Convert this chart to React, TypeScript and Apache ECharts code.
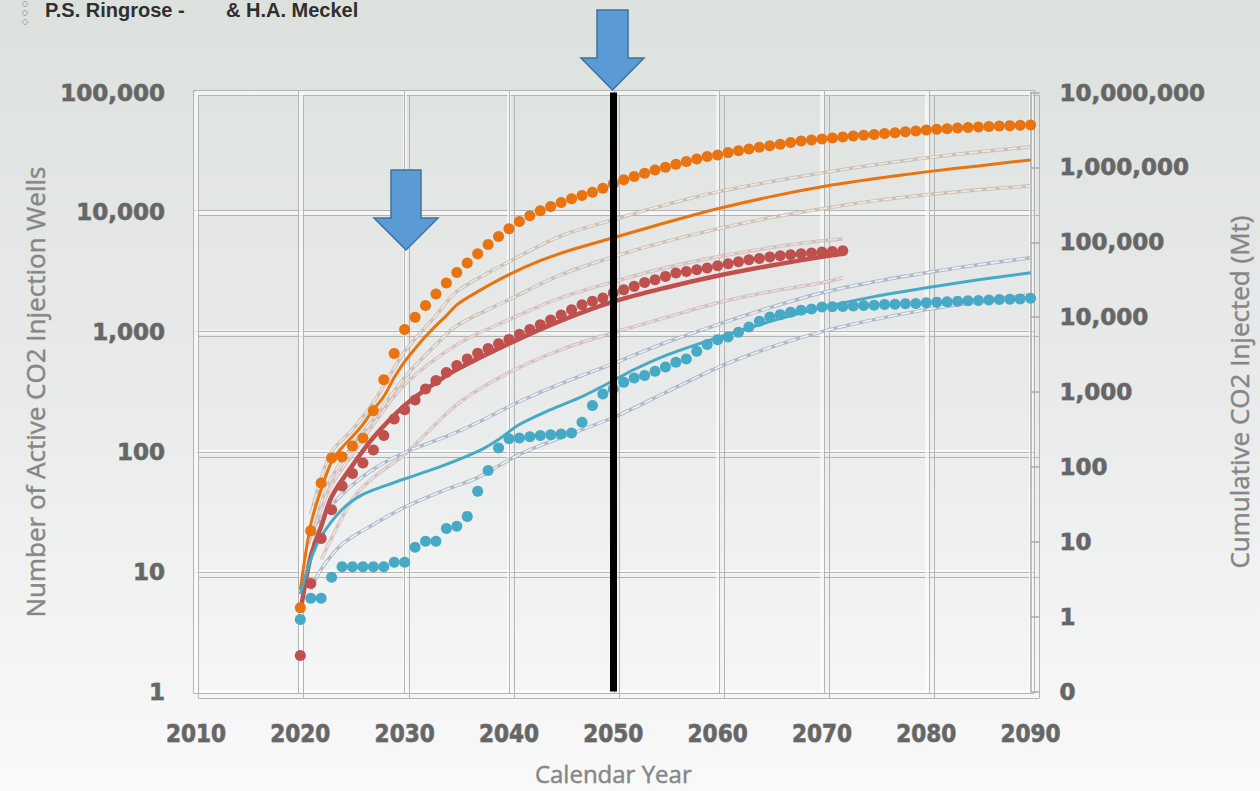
import React, { useEffect, useRef } from "react";
import * as echarts from "echarts";

// ---- data ----
const DOT_START_YEAR = 2020;
// Number of active CO2 injection wells (left axis), one dot per year from 2020
const orangeDots = [
  5, 22, 55, 89, 91, 112, 131, 221, 400, 662,
  1050, 1330, 1670, 2080, 2570, 3150, 3770, 4510, 5390, 6290,
  7290, 8380, 9350, 10300, 11200, 12100, 13000, 13800, 14700, 15900,
  17300, 18700, 19900, 21200, 22600, 23800, 25200, 26500, 27900, 29200,
  30100, 31500, 32700, 33800, 34900, 36000, 37000, 38200, 39400, 40200,
  41000, 41800, 42600, 43400, 44000, 44700, 45500, 46200, 47000, 47800,
  48700, 49400, 49900, 50500, 51000, 51500, 52000, 52500, 52900, 53200, 53500,
];
const redDots = [
  2, 8, 19, 33, 52, 66, 81, 104, 137, 188,
  225, 272, 335, 395, 460, 526, 598, 665, 730, 800,
  870, 960, 1050, 1150, 1260, 1390, 1540, 1690, 1810, 1930,
  2120, 2260, 2410, 2600, 2740, 2920, 3110, 3210, 3320, 3430,
  3580, 3720, 3870, 4020, 4120, 4230, 4340, 4420, 4510, 4570,
  4660, 4710, 4780,
];
const tealDots = [
  4, 6, 6, 9, 11, 11, 11, 11, 11, 12,
  12, 16, 18, 18, 23, 24, 29, 47, 70, 108,
  129, 131, 134, 137, 139, 141, 144, 177, 244, 305,
  336, 382, 415, 434, 471, 512, 560, 598, 692, 787,
  866, 911, 996, 1105, 1231, 1339, 1400, 1463, 1520, 1561,
  1622, 1630, 1640, 1650, 1665, 1680, 1700, 1710, 1725, 1735,
  1760, 1780, 1795, 1810, 1825, 1835, 1855, 1875, 1885, 1895, 1915,
];

// Cumulative CO2 injected (Mt, right axis)
const orangeLineYears = [2020, 2021, 2022, 2023, 2024, 2025, 2026, 2027, 2028, 2029, 2030, 2031, 2032, 2033, 2034, 2035, 2037, 2040, 2043, 2046, 2050, 2055, 2060, 2065, 2070, 2075, 2080, 2085, 2090];
const orangeLine = [2.3, 17, 50, 118, 182, 255, 369, 584, 871, 1560, 2550, 3800, 5500, 7700, 10500, 14600, 21900, 36900, 56700, 79400, 115000, 182000, 280000, 404000, 550000, 703000, 871000, 1047000, 1259000];
const orangeBandYears = [2021, 2022, 2023, 2025, 2027, 2030, 2033, 2035, 2040, 2045, 2050, 2055, 2060, 2065, 2070, 2075, 2080, 2085, 2090];
const orangeUpper = [23, 72, 161, 316, 724, 3470, 10500, 21900, 55000, 122000, 200000, 316000, 471000, 641000, 845000, 1080000, 1340000, 1610000, 1880000];
const orangeLower = [9.3, 32, 72, 194, 430, 1560, 4300, 7700, 17100, 36900, 64100, 102000, 151000, 212000, 280000, 357000, 430000, 501000, 567000];

const redLineYears = [2020, 2021, 2022, 2023, 2025, 2027, 2030, 2033, 2035, 2040, 2045, 2050, 2055, 2060, 2065, 2070, 2072];
const redLine = [1.15, 6.4, 16, 40, 105, 247, 661, 1340, 2000, 4430, 8980, 16100, 24700, 35700, 48600, 64100, 70300];
const redUpperYears = [2021, 2022, 2023, 2025, 2027, 2030, 2035, 2040, 2045, 2050, 2055, 2060, 2065, 2070, 2072];
const redUpper = [10.8, 27, 58, 147, 369, 1260, 4300, 9260, 18200, 29700, 45700, 64100, 84500, 105000, 111000];
const redLowerYears = [2022, 2025, 2027, 2030, 2035, 2040, 2045, 2050, 2055, 2060, 2065, 2070, 2072];
const redLower = [5.8, 37, 72, 147, 681, 1820, 3690, 6210, 9840, 15600, 21900, 28800, 33600];

const tealLineYears = [2020, 2021, 2022, 2024, 2026, 2029, 2031, 2034, 2037, 2039, 2041, 2044, 2047, 2050, 2052, 2055, 2060, 2065, 2070, 2075, 2080, 2085, 2090];
const tealLine = [2.0, 5.8, 11.8, 27, 43, 62, 77, 108, 161, 233, 369, 584, 871, 1420, 2000, 3070, 5330, 8710, 13400, 18800, 24700, 31600, 39200];
const tealBandYears = [2021, 2022, 2024, 2027, 2030, 2034, 2037, 2041, 2045, 2050, 2055, 2060, 2065, 2070, 2075, 2080, 2085, 2090];
const tealUpper = [9.3, 20, 43, 93, 156, 255, 392, 747, 1300, 2400, 4570, 7940, 13400, 21200, 29700, 39200, 50100, 62100];
const tealLower = [2.3, 4.3, 9.3, 17, 29, 50, 72, 147, 247, 457, 985, 2120, 3920, 6410, 9270, 12600, 16100, 20000];

const MARKED_YEAR = 2050;
const X_MIN = 2010;
const X_MAX = 2090;
const X_STEP = 10;

const ORANGE = "#e8730f";
const RED = "#c0504d";
const TEAL = "#46aac6";

const dots = (vals: number[]) => vals.map((v, i) => [DOT_START_YEAR + i, v]);
const pairs = (xs: number[], ys: number[]) => xs.map((x, i) => [x, ys[i]]);
const fmt = (v: number) => (v < 0.5 ? "0" : Math.round(v).toLocaleString("en-US"));

export default function App() {
  const ref = useRef<HTMLDivElement>(null);
  useEffect(() => {
    document.body.style.margin = "0";
    const chart = echarts.init(ref.current!, null, { renderer: "svg" });

    const G = { left: 196, top: 92.5, width: 841, height: 603 };
    const gridColor = "#b3b5b4";
    const tickLabel = {
      fontFamily: "DejaVu Sans",
      fontWeight: "bold" as const,
      fontSize: 23,
      color: "#666666",
      textBorderColor: "rgba(70,70,70,0.55)",
      textBorderWidth: 1,
    };
    const nameStyle = {
      fontFamily: "Open Sans",
      fontSize: 26,
      color: "#868686",
      textBorderColor: "rgba(90,90,90,0.45)",
      textBorderWidth: 0.8,
    };

    const helperX = (gi: number) => ({
      type: "value", gridIndex: gi, min: X_MIN, max: X_MAX, interval: X_STEP,
      axisLabel: { show: false }, axisLine: { show: false }, axisTick: { show: false },
      splitLine: { show: true, lineStyle: { color: gridColor, width: 1 } },
    });
    const helperY = (gi: number) => ({
      type: "log", gridIndex: gi, min: 1, max: 100000, logBase: 10,
      axisLabel: { show: false }, axisLine: { show: false }, axisTick: { show: false },
      splitLine: { show: true, lineStyle: { color: gridColor, width: 1 } },
    });

    const band = (name: string, data: number[][], outline: string, inner: string) => [
      {
        name: name + "-edge", type: "line", xAxisIndex: 0, yAxisIndex: 1, data,
        smooth: 0.3, showSymbol: false, z: 2,
        lineStyle: { color: outline, width: 3.5 },
      },
      {
        name, type: "line", xAxisIndex: 0, yAxisIndex: 1, data,
        smooth: 0.3, showSymbol: false, z: 2,
        lineStyle: { color: inner, width: 1.6, type: [9, 4] },
      },
    ];

    const arrow = (pts: number[][]) => ({
      type: "polygon",
      shape: { points: pts },
      style: { fill: "#5b9bd5", stroke: "#41719c", lineWidth: 1.5 },
      z: 100,
    });

    chart.setOption({
      animation: false,
      backgroundColor: {
        type: "linear", x: 0, y: 0, x2: 0, y2: 1,
        colorStops: [
          { offset: 0, color: "#dce1de" },
          { offset: 0.5, color: "#e9ebea" },
          { offset: 1, color: "#f9f9f9" },
        ],
      },
      grid: [
        { left: G.left, top: G.top, width: G.width, height: G.height },
        { left: G.left - 2.5, top: G.top - 2.5, width: G.width, height: G.height },
        { left: G.left + 2.5, top: G.top + 2.5, width: G.width, height: G.height },
      ],
      xAxis: [
        {
          type: "value", gridIndex: 0, min: X_MIN, max: X_MAX, interval: X_STEP,
          name: "Calendar Year", nameLocation: "middle", nameGap: 70,
          nameTextStyle: { ...nameStyle, fontSize: 24 },
          axisLine: { show: false }, axisTick: { show: false },
          axisLabel: {
            margin: 30, formatter: (v: number) => String(v),
            ...tickLabel, fontFamily: "DejaVu Sans Condensed", fontSize: 24,
          },
          splitLine: { show: true, lineStyle: { color: "rgba(255,255,255,0.6)", width: 4 } },
        },
        helperX(1),
        helperX(2),
      ],
      yAxis: [
        {
          type: "log", gridIndex: 0, min: 1, max: 100000, logBase: 10, splitNumber: 5,
          name: "Number of Active CO2 Injection Wells", nameLocation: "middle", nameGap: 146,
          nameTextStyle: nameStyle,
          axisLine: { show: false }, axisTick: { show: false },
          axisLabel: { margin: 31, formatter: fmt, ...tickLabel },
          splitLine: { show: true, lineStyle: { color: "rgba(255,255,255,0.6)", width: 4 } },
        },
        {
          type: "log", gridIndex: 0, position: "right", min: 0.1, max: 10000000, logBase: 10, splitNumber: 8,
          name: "Cumulative CO2 Injected (Mt)", nameLocation: "middle", nameGap: 195,
          nameTextStyle: nameStyle,
          axisLine: { show: true, lineStyle: { color: "#aaaaaa", width: 1.5 } },
          axisTick: { show: true, length: 9, lineStyle: { color: "#aaaaaa", width: 1.5 } },
          axisLabel: { margin: 29, formatter: fmt, ...tickLabel },
          splitLine: { show: false },
        },
        helperY(1),
        helperY(2),
      ],
      graphic: [
        {
          type: "text", left: 45, top: 0, z: 100,
          style: { text: "P.S. Ringrose -", font: "bold 20px 'Liberation Sans'", fill: "#2f2f2f" },
        },
        {
          type: "text", left: 226, top: 0, z: 100,
          style: { text: "& H.A. Meckel", font: "bold 20px 'Liberation Sans'", fill: "#2f2f2f" },
        },
        { type: "circle", shape: { cx: 25, cy: 4, r: 2.5 }, style: { fill: "none", stroke: "#a8a8a8", lineWidth: 1 } },
        { type: "circle", shape: { cx: 25, cy: 13, r: 2.5 }, style: { fill: "none", stroke: "#a8a8a8", lineWidth: 1 } },
        { type: "circle", shape: { cx: 25, cy: 22, r: 2.5 }, style: { fill: "none", stroke: "#a8a8a8", lineWidth: 1 } },
        arrow([[391, 170], [421, 170], [421, 218], [438, 218], [406, 250], [374, 218], [391, 218]]),
        arrow([[597, 10], [628, 10], [628, 58], [644, 58], [612.5, 90], [581, 58], [597, 58]]),
      ],
      series: [
        ...band("Orange upper", pairs(orangeBandYears, orangeUpper), "rgba(190,185,180,0.8)", "#fbe6d6"),
        ...band("Orange lower", pairs(orangeBandYears, orangeLower), "rgba(190,185,180,0.8)", "#fbe6d6"),
        ...band("Red upper", pairs(redUpperYears, redUpper), "rgba(195,180,180,0.7)", "#f6dcdb"),
        ...band("Red lower", pairs(redLowerYears, redLower), "rgba(195,180,180,0.7)", "#f6dcdb"),
        ...band("Teal upper", pairs(tealBandYears, tealUpper), "rgba(160,172,190,0.8)", "#eef3fa"),
        ...band("Teal lower", pairs(tealBandYears, tealLower), "rgba(160,172,190,0.8)", "#eef3fa"),
        {
          name: "Orange cumulative", type: "line", xAxisIndex: 0, yAxisIndex: 1,
          data: pairs(orangeLineYears, orangeLine), smooth: 0.3, showSymbol: false, z: 3,
          lineStyle: { color: ORANGE, width: 3 },
        },
        {
          name: "Red cumulative", type: "line", xAxisIndex: 0, yAxisIndex: 1,
          data: pairs(redLineYears, redLine), smooth: 0.3, showSymbol: false, z: 3,
          lineStyle: { color: RED, width: 4.5 },
        },
        {
          name: "Teal cumulative", type: "line", xAxisIndex: 0, yAxisIndex: 1,
          data: pairs(tealLineYears, tealLine), smooth: 0.3, showSymbol: false, z: 3,
          lineStyle: { color: TEAL, width: 3 },
        },
        {
          name: "Orange wells", type: "scatter", xAxisIndex: 0, yAxisIndex: 0,
          data: dots(orangeDots), symbolSize: 11, z: 4,
          itemStyle: { color: ORANGE, opacity: 1 },
        },
        {
          name: "Red wells", type: "scatter", xAxisIndex: 0, yAxisIndex: 0,
          data: dots(redDots), symbolSize: 11, z: 4,
          itemStyle: { color: RED, opacity: 1 },
        },
        {
          name: "Teal wells", type: "scatter", xAxisIndex: 0, yAxisIndex: 0,
          data: dots(tealDots), symbolSize: 11, z: 4,
          itemStyle: { color: TEAL, opacity: 1 },
        },
        {
          name: "Marker", type: "line", xAxisIndex: 0, yAxisIndex: 0, data: [], z: 6,
          markLine: {
            silent: true, symbol: ["none", "none"], label: { show: false },
            lineStyle: { color: "#000000", width: 7, type: "solid" },
            data: [{ xAxis: MARKED_YEAR }],
          },
        },
      ],
    });
    return () => chart.dispose();
  }, []);
  return <div ref={ref} style={{ width: 1260, height: 791 }} />;
}
